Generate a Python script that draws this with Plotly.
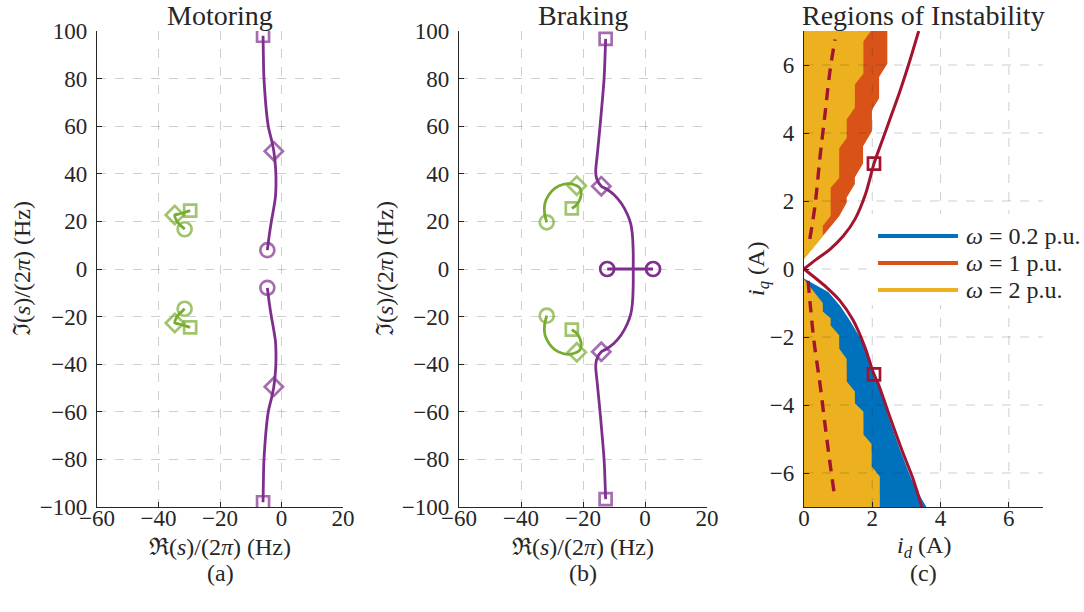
import plotly.graph_objects as go

W, H = 1084, 612

# ---------------- colours ----------------
PURPLE = "#7E2F8E"
GREEN = "#77AC30"
BLUE = "#0072BD"
ORANGE = "#D95319"
YELLOW = "#EDB120"
DARKRED = "#A2142F"
TXT = "#262626"

# ---------------- panel (a): Motoring ----------------
mot_purple_up_re = [-6.0, -5.9, -5.7, -4.3, -3.2, -2.5, -1.9, -1.8, -2.0, -2.6, -3.3, -4.0, -4.6]
mot_purple_up_im = [98, 90, 80, 60, 54, 49.5, 42, 35, 30, 25, 20, 14, 7.9]
mot_purple_lo_re = [-6.0, -5.9, -5.7, -4.3, -3.2, -2.5, -1.9, -1.8, -2.0, -2.6, -3.3, -4.0, -4.6]
mot_purple_lo_im = [-98, -90, -80, -60, -54, -49.5, -42, -35, -30, -25, -20, -14, -7.9]
mot_purple_diamond = 5

mot_green_up_re = [-29.7, -31.5, -33.3, -34.7, -34.3, -33.3, -32.2, -31.5]
mot_green_up_im = [24.5, 23.8, 23.1, 22.7, 20.8, 18.9, 17.6, 16.7]
mot_green_lo_re = [-29.7, -31.5, -33.3, -34.7, -34.3, -33.3, -32.2, -31.5]
mot_green_lo_im = [-24.5, -23.8, -23.1, -22.7, -20.8, -18.9, -17.6, -16.7]
mot_green_diamond = 3

# ---------------- panel (b): Braking ----------------
brk_purple_up_re = [-12.7, -13.2, -14.5, -15.4, -15.9, -15.6, -14.1, -12.3, -10.0, -7.6, -5.7, -4.6, -4.1, -3.8, -3.8]
brk_purple_up_im = [96.7, 80, 60, 48, 41, 38, 34.8, 33.5, 31.2, 27.5, 23, 19, 14.9, 6.8, 0]
brk_purple_lo_re = [-12.7, -13.2, -14.5, -15.4, -15.9, -15.6, -14.1, -12.3, -10.0, -7.6, -5.7, -4.6, -4.1, -3.8, -3.8]
brk_purple_lo_im = [-96.7, -80, -60, -48, -41, -38, -34.8, -33.5, -31.2, -27.5, -23, -19, -14.9, -6.8, 0]
brk_purple_diamond = 6
brk_real_re = [-12.2, 2.6]
brk_real_im = [0, 0]

brk_green_up_re = [-23.6, -22.2, -20.9, -20.6, -21.2, -22.0, -24.0, -26.5, -29.0, -31.0, -32.3, -32.4, -31.7]
brk_green_up_im = [25.5, 26.8, 29.5, 32.5, 34.3, 35.0, 35.8, 35.5, 34.0, 31.2, 27.5, 23.5, 19.6]
brk_green_lo_re = [-23.6, -22.2, -20.9, -20.6, -21.2, -22.0, -24.0, -26.5, -29.0, -31.0, -32.3, -32.4, -31.7]
brk_green_lo_im = [-25.5, -26.8, -29.5, -32.5, -34.3, -35.0, -35.8, -35.5, -34.0, -31.2, -27.5, -23.5, -19.6]
brk_green_diamond = 5

# ---------------- panel (c): Regions of instability ----------------
up_orange_id = [0, 0.30, 0.55, 0.78, 1.03, 1.25, 1.25, 1.49, 1.49, 1.73, 1.73, 1.99, 1.99, 2.20, 2.20, 2.44, 2.44, 0]
up_orange_iq = [0.30, 0.67, 0.95, 1.25, 1.55, 1.95, 2.10, 2.50, 2.70, 3.10, 3.61, 4.05, 4.68, 5.02, 5.65, 6.04, 7.0, 7.0]
up_yellow_id = [0, 0.30, 0.55, 0.55, 0.78, 0.78, 1.03, 1.03, 1.25, 1.25, 1.49, 1.49, 1.74, 1.74, 1.96, 0]
up_yellow_iq = [0.30, 0.67, 0.97, 1.27, 1.56, 2.39, 2.68, 3.55, 3.85, 4.40, 4.75, 5.43, 5.75, 6.70, 7.0, 7.0]
lo_blue_id = [0, 0.71, 1.05, 1.34, 1.69, 1.88, 2.08, 2.17, 2.47, 2.81, 3.15, 3.45, 3.59, 0]
lo_blue_iq = [-0.28, -0.68, -1.07, -1.51, -2.10, -2.63, -3.07, -3.36, -4.34, -5.31, -6.19, -6.77, -7.0, -7.0]
lo_orange_id = [0, 0.30, 0.30, 0.55, 0.55, 0.78, 0.78, 1.03, 1.03, 1.25, 1.25, 1.49, 1.49, 1.74, 1.74, 1.98, 1.98, 2.22, 2.22, 0]
lo_orange_iq = [-0.30, -0.68, -0.92, -1.22, -1.45, -1.70, -1.90, -2.20, -2.62, -2.97, -3.55, -3.85, -4.15, -4.43, -5.10, -5.41, -6.30, -6.68, -7.0, -7.0]
lo_yellow_id = [0, 0.30, 0.55, 0.55, 0.78, 0.78, 1.03, 1.03, 1.25, 1.25, 1.49, 1.49, 1.74, 1.74, 1.98, 1.98, 2.22, 2.22, 0]
lo_yellow_iq = [-0.30, -0.68, -1.00, -1.25, -1.45, -1.66, -1.95, -2.34, -2.65, -3.31, -3.60, -3.95, -4.20, -4.87, -5.15, -5.80, -6.10, -7.0, -7.0]

red_up_id = [0, 0.37, 0.76, 1.15, 1.49, 1.80, 2.05, 2.30, 2.55, 2.80, 3.06, 3.36]
red_up_iq = [0, 0.29, 0.58, 0.97, 1.46, 2.20, 3.10, 3.80, 4.50, 5.20, 6.00, 7.00]
red_lo_id = [0, 0.35, 0.66, 1.05, 1.44, 1.78, 2.05, 2.17, 2.51, 2.86, 3.20, 3.45]
red_lo_iq = [0, -0.28, -0.54, -0.93, -1.51, -2.29, -3.10, -3.36, -4.34, -5.31, -6.19, -7.00]
red_marker_idx = 6
dash_up_id = [0.17, 0.32, 0.47, 0.62, 0.76, 0.91]
dash_up_iq = [0.88, 1.85, 3.30, 4.60, 5.82, 6.75]
dash_lo_id = [0.12, 0.18, 0.29, 0.47, 0.61, 0.76, 0.91]
dash_lo_iq = [-0.35, -1.02, -2.10, -3.40, -4.53, -5.70, -6.77]

legend_labels = ["<i>ω</i> = 0.2 p.u.", "<i>ω</i> = 1 p.u.", "<i>ω</i> = 2 p.u."]
legend_colors = [BLUE, ORANGE, YELLOW]

ri_ticks = [-60, -40, -20, 0, 20]
im_ticks = [-100, -80, -60, -40, -20, 0, 20, 40, 60, 80, 100]
id_ticks = [0, 2, 4, 6]
iq_ticks = [-6, -4, -2, 0, 2, 4, 6]

FONT = "Liberation Serif"
TICK_SIZE = 23
LABEL_SIZE = 24
TITLE_SIZE = 28

fig = go.Figure()


def px_x(px):
    return px / W


def px_y(py):
    return 1 - py / H


def add_branch(re, im, color, marks, xa, ya):
    fig.add_trace(go.Scatter(x=re, y=im, mode="lines", xaxis=xa, yaxis=ya,
                             line=dict(color=color, width=2.8, shape="spline", smoothing=0.7),
                             showlegend=False, hoverinfo="skip"))
    sizes = {"square-open": 12, "diamond-open": 14, "circle-open": 14}
    fig.add_trace(go.Scatter(x=[re[i] for i, _ in marks], y=[im[i] for i, _ in marks], mode="markers",
                             xaxis=xa, yaxis=ya,
                             marker=dict(symbol=[s for _, s in marks], size=[sizes[s] for _, s in marks],
                                         color=color, line=dict(color=color, width=2.7)),
                             showlegend=False, hoverinfo="skip"))


def marks3(re, d_idx):
    return [(0, "square-open"), (d_idx, "diamond-open"), (len(re) - 1, "circle-open")]


# panel a
add_branch(mot_purple_up_re, mot_purple_up_im, PURPLE, marks3(mot_purple_up_re, mot_purple_diamond), "x", "y")
add_branch(mot_purple_lo_re, mot_purple_lo_im, PURPLE, marks3(mot_purple_lo_re, mot_purple_diamond), "x", "y")
add_branch(mot_green_up_re, mot_green_up_im, GREEN, marks3(mot_green_up_re, mot_green_diamond), "x", "y")
add_branch(mot_green_lo_re, mot_green_lo_im, GREEN, marks3(mot_green_lo_re, mot_green_diamond), "x", "y")

# panel b
fig.add_trace(go.Scatter(x=brk_real_re, y=brk_real_im, mode="lines+markers", xaxis="x2", yaxis="y2",
                         line=dict(color=PURPLE, width=2.8),
                         marker=dict(symbol="circle-open", size=14, color=PURPLE,
                                     line=dict(color=PURPLE, width=2.7)),
                         showlegend=False, hoverinfo="skip"))
add_branch(brk_purple_up_re, brk_purple_up_im, PURPLE,
           [(0, "square-open"), (brk_purple_diamond, "diamond-open")], "x2", "y2")
add_branch(brk_purple_lo_re, brk_purple_lo_im, PURPLE,
           [(0, "square-open"), (brk_purple_diamond, "diamond-open")], "x2", "y2")
add_branch(brk_green_up_re, brk_green_up_im, GREEN, marks3(brk_green_up_re, brk_green_diamond), "x2", "y2")
add_branch(brk_green_lo_re, brk_green_lo_im, GREEN, marks3(brk_green_lo_re, brk_green_diamond), "x2", "y2")

# panel c fills
for xs, ys, col in [(up_orange_id, up_orange_iq, ORANGE), (up_yellow_id, up_yellow_iq, YELLOW),
                    (lo_blue_id, lo_blue_iq, BLUE), (lo_orange_id, lo_orange_iq, ORANGE),
                    (lo_yellow_id, lo_yellow_iq, YELLOW)]:
    fig.add_trace(go.Scatter(x=xs, y=ys, mode="lines", fill="toself", fillcolor=col,
                             line=dict(width=0, color=col), xaxis="x3", yaxis="y3",
                             showlegend=False, hoverinfo="skip"))

for xs, ys in [(dash_up_id, dash_up_iq), (dash_lo_id, dash_lo_iq)]:
    fig.add_trace(go.Scatter(x=xs, y=ys, mode="lines", xaxis="x3", yaxis="y3",
                             line=dict(color=DARKRED, width=3.4, dash="12px,8px", shape="spline"),
                             showlegend=False, hoverinfo="skip"))
for xs, ys in [(red_up_id, red_up_iq), (red_lo_id, red_lo_iq)]:
    fig.add_trace(go.Scatter(x=xs, y=ys, mode="lines", xaxis="x3", yaxis="y3",
                             line=dict(color=DARKRED, width=3, shape="spline", smoothing=0.8),
                             showlegend=False, hoverinfo="skip"))
    fig.add_trace(go.Scatter(x=[xs[red_marker_idx]], y=[ys[red_marker_idx]], mode="markers",
                             xaxis="x3", yaxis="y3",
                             marker=dict(symbol="square-open", size=12, color=DARKRED,
                                         line=dict(color=DARKRED, width=2.7)),
                             showlegend=False, hoverinfo="skip"))

GRID = "rgba(38,38,38,0.22)"


def fmt(t):
    return ("\u2212" + str(-t)) if t < 0 else str(t)


def axis(domain, rng, ticks, standoff, grid=True):
    return dict(domain=domain, range=rng, tickvals=ticks, ticktext=[fmt(t) for t in ticks],
                showline=True, linecolor=TXT, linewidth=1.2, mirror=False,
                ticks="inside", ticklen=5, tickcolor=TXT, tickwidth=1,
                showgrid=grid, gridcolor=GRID, griddash="dash", gridwidth=1,
                zeroline=False, fixedrange=True, layer="above traces",
                tickfont=dict(family=FONT, size=TICK_SIZE, color=TXT), ticklabelstandoff=standoff)


XSO, YSO = -10, 4
ydom = [px_y(507), px_y(31)]
fig.update_layout(
    width=W, height=H, margin=dict(l=0, r=0, t=0, b=0, pad=0, autoexpand=False),
    paper_bgcolor="white", plot_bgcolor="white",
    font=dict(family=FONT, size=22, color=TXT),
    xaxis=dict(axis([px_x(97), px_x(343)], [-60, 20], ri_ticks, XSO), anchor="y"),
    yaxis=dict(axis(ydom, [-100, 100], im_ticks, YSO), anchor="x"),
    xaxis2=dict(axis([px_x(459), px_x(707)], [-60, 20], ri_ticks, XSO), anchor="y2"),
    yaxis2=dict(axis(ydom, [-100, 100], im_ticks, YSO), anchor="x2"),
    xaxis3=dict(axis([px_x(804), px_x(1043)], [0, 7], id_ticks, XSO, grid=False), anchor="y3"),
    yaxis3=dict(axis(ydom, [-7, 7], iq_ticks, YSO, grid=False), anchor="x3"),
)

shapes = []
for t in id_ticks[1:]:
    shapes.append(dict(type="line", xref="x3", yref="y3", x0=t, x1=t, y0=-7, y1=7,
                       line=dict(color=GRID, width=1, dash="dash"), layer="above"))
for t in iq_ticks:
    shapes.append(dict(type="line", xref="x3", yref="y3", x0=0, x1=7, y0=t, y1=t,
                       line=dict(color=GRID, width=1, dash="dash"), layer="above"))
shapes.append(dict(type="rect", xref="paper", yref="paper", x0=px_x(870), x1=px_x(1084),
                   y0=px_y(305), y1=px_y(214), fillcolor="white", line=dict(width=0), layer="above"))
legend_y = [236, 263, 290]
annotations = []
for lab, col, yy in zip(legend_labels, legend_colors, legend_y):
    shapes.append(dict(type="line", xref="paper", yref="paper", x0=px_x(878), x1=px_x(958),
                       y0=px_y(yy), y1=px_y(yy), line=dict(color=col, width=4), layer="above"))
    annotations.append(dict(text=lab, xref="paper", yref="paper", x=px_x(964), y=px_y(yy),
                            xanchor="left", yanchor="middle", showarrow=False,
                            font=dict(family=FONT, size=24, color=TXT)))

texts = [
    ("Motoring", 220, 15, TITLE_SIZE, 0), ("Braking", 583, 15, TITLE_SIZE, 0),
    ("Regions of Instability", 923.5, 15, TITLE_SIZE, 0),
    ("ℜ(<i>s</i>)/(2<i>π</i>) (Hz)", 220, 547, LABEL_SIZE, 0),
    ("ℜ(<i>s</i>)/(2<i>π</i>) (Hz)", 583, 547, LABEL_SIZE, 0),
    ("<i>i</i><sub><i>d</i></sub> (A)", 923.5, 547, LABEL_SIZE, 0),
    ("(a)", 220, 573, LABEL_SIZE, 0), ("(b)", 583, 573, LABEL_SIZE, 0), ("(c)", 923.5, 573, LABEL_SIZE, 0),
    ("ℑ(<i>s</i>)/(2<i>π</i>) (Hz)", 22, 269, LABEL_SIZE, -90),
    ("ℑ(<i>s</i>)/(2<i>π</i>) (Hz)", 385, 269, LABEL_SIZE, -90),
    ("<i>i</i><sub><i>q</i></sub> (A)", 758, 269, LABEL_SIZE, -90),
]
for t, x, y, s, ang in texts:
    annotations.append(dict(text=t, xref="paper", yref="paper", x=px_x(x), y=px_y(y),
                            xanchor="center", yanchor="middle", showarrow=False, textangle=ang,
                            font=dict(family=FONT, size=s, color=TXT)))

fig.update_layout(shapes=shapes, annotations=annotations)
fig.write_html("out.html",
               post_script="document.body.style.margin='0';document.body.style.padding='0';"
                           "document.body.style.overflow='hidden';")
